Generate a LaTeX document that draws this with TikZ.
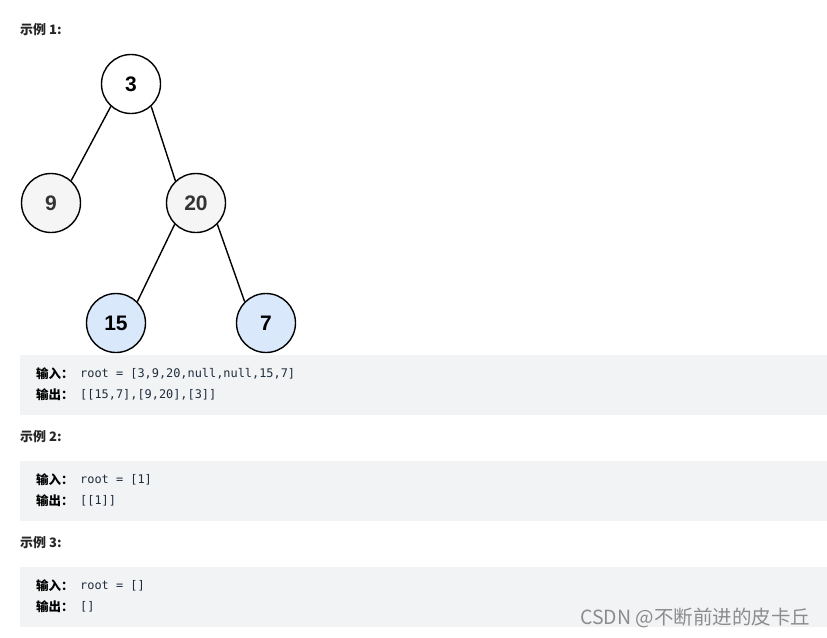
\documentclass[tikz,border=0pt]{standalone}
\usepackage{fontspec}
\setmainfont{Liberation Sans}
\newfontfamily\cjk{Noto Sans CJK SC}
\newfontfamily\codefont{DejaVu Sans Mono}
\usetikzlibrary{positioning}
\definecolor{boxgray}{HTML}{F2F3F5}
\definecolor{nodegray}{HTML}{F5F5F5}
\definecolor{nodeblue}{HTML}{DAE8FC}
\definecolor{txtdark}{HTML}{262626}
\definecolor{codetxt}{HTML}{1F2D3D}
\begin{document}
\begin{tikzpicture}[x=1pt,y=-1pt,
  treenode/.style={circle,draw=black,line width=1.4pt,minimum size=59pt,inner sep=0pt,font=\fontsize{21}{21}\selectfont\bfseries},
  edge/.style={line width=1.4pt,draw=black},
  title/.style={anchor=west,inner sep=0pt,font=\cjk\fontsize{13}{13}\selectfont\bfseries,text=txtdark},
  codebox/.style={fill=boxgray,draw=none},
  label/.style={anchor=west,inner sep=0pt,font=\cjk\fontsize{12.5}{12}\selectfont\bfseries,text=black},
  code/.style={anchor=west,inner sep=0pt,font=\codefont\fontsize{11.9}{12}\selectfont,text=codetxt}]
\useasboundingbox (0,0) rectangle (827,637);
\fill[white] (0,0) rectangle (827,637);
% titles
\node[title] (t1) at (20,30) {示例 1:};
\node[title] (t2) at (20,437) {示例 2:};
\node[title] (t3) at (20,543) {示例 3:};
% tree
\node[treenode,fill=white] (n3) at (131,84) {3};
\node[treenode,fill=nodegray,text=black!80] (n9) at (51,203) {9};
\node[treenode,fill=nodegray,text=black!80] (n20) at (196,203) {20};
\node[treenode,fill=nodeblue] (n15) at (116,323) {15};
\node[treenode,fill=nodeblue] (n7) at (266,323) {7};
\draw[edge] (n3.228) -- (n9.48);
\draw[edge] (n3.312) -- (n20.133);
\draw[edge] (n20.225) -- (n15.45);
\draw[edge] (n20.315) -- (n7.135);
% boxes
\fill[codebox] (20,355) rectangle (827,415);
\fill[codebox] (20,461) rectangle (827,521);
\fill[codebox] (20,567) rectangle (827,627);
\node[label] (i1) at (36,374) {输入：};
\node[code] (c1) at (80,374) {root = [3,9,20,null,null,15,7]};
\node[label] (o1) at (36,395) {输出：};
\node[code] (d1) at (80,395) {[[15,7],[9,20],[3]]};
\node[label] (i2) at (36,480) {输入：};
\node[code] (c2) at (80,480) {root = [1]};
\node[label] (o2) at (36,501) {输出：};
\node[code] (d2) at (80,501) {[[1]]};
\node[label] (i3) at (36,586) {输入：};
\node[code] (c3) at (80,586) {root = []};
\node[label] (o3) at (36,607) {输出：};
\node[code] (d3) at (80,607) {[]};
% watermark
\node[anchor=west,inner sep=0pt,text=black!45,font=\cjk\fontsize{19.5}{19.5}\selectfont] (wm) at (580,618) {CSDN @不断前进的皮卡丘};
\end{tikzpicture}
\end{document}
